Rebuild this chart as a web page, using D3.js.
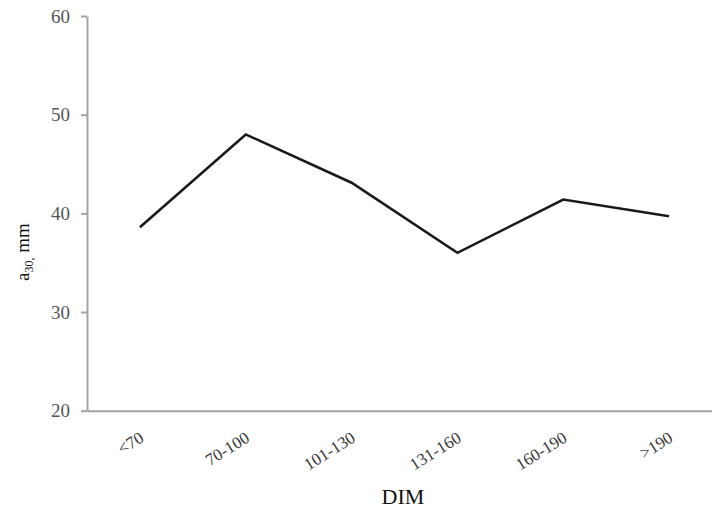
<!DOCTYPE html>
<html>
<head>
<meta charset="utf-8">
<script src="https://cdn.jsdelivr.net/npm/d3@7/dist/d3.min.js"></script>
<style>
  html, body { margin: 0; padding: 0; background: #fff; }
  svg { display: block; overflow: hidden; }
  text { font-family: "Liberation Serif", "Times New Roman", serif; }
</style>
</head>
<body>
<svg id="chart" width="712" height="511"></svg>
<script>
// Days in milk groups and mean a30 values
const categories = ["<70", "70-100", "101-130", "131-160", "160-190", ">190"];
const a30Values = [38.6, 48.0, 43.1, 36.0, 41.4, 39.7];
const yTicks = [20, 30, 40, 50, 60];

const svg = d3.select("#chart");
const plotLeft = 87, plotTop = 16, plotBottom = 410.7, plotRight = 722;

const x = d3.scaleBand().domain(categories).range([plotLeft, plotRight]);
const y = d3.scaleLinear().domain([20, 60]).range([plotBottom, plotTop]);

const axisColor = "#a3a3a3";

// Y axis
const yAxis = svg.append("g")
  .attr("transform", `translate(${plotLeft},0)`)
  .call(d3.axisLeft(y).tickValues(yTicks).tickSize(6).tickSizeOuter(0).tickPadding(11));
yAxis.select(".domain").attr("stroke", axisColor).attr("stroke-width", 2);
yAxis.selectAll(".tick line").attr("stroke", axisColor).attr("stroke-width", 2);
yAxis.selectAll(".tick text")
  .attr("fill", "#555555")
  .style("font-size", "19px")
  .style("font-family", "'Liberation Serif', serif");

// X axis
const xAxis = svg.append("g")
  .attr("transform", `translate(0,${plotBottom})`)
  .call(d3.axisBottom(x).tickSize(0).tickSizeOuter(0).tickPadding(0));
xAxis.select(".domain").attr("stroke", axisColor).attr("stroke-width", 2);
xAxis.selectAll(".tick text")
  .attr("fill", "#383838")
  .style("font-size", "17px")
  .style("font-family", "'Liberation Serif', serif")
  .attr("text-anchor", "end")
  .attr("dy", 0)
  .attr("y", 0)
  .attr("transform", "translate(5,30) rotate(-32)");

// Data line
const line = d3.line()
  .x((d, i) => x(categories[i]) + x.bandwidth() / 2)
  .y(d => y(d));

svg.append("path")
  .datum(a30Values)
  .attr("fill", "none")
  .attr("stroke", "#1a1a1a")
  .attr("stroke-width", 2.6)
  .attr("stroke-linejoin", "miter")
  .attr("d", line);

// Axis titles
svg.append("text")
  .attr("x", 403)
  .attr("y", 504)
  .attr("text-anchor", "middle")
  .attr("fill", "#111")
  .style("font-size", "22px")
  .text("DIM");

const yTitle = svg.append("text")
  .attr("transform", "translate(29,252) rotate(-90)")
  .attr("text-anchor", "middle")
  .attr("fill", "#111")
  .style("font-size", "19px");
yTitle.append("tspan").text("a");
yTitle.append("tspan").attr("dy", 4).style("font-size", "12px").text("30,");
yTitle.append("tspan").attr("dy", -4).text(" mm");
</script>
</body>
</html>
